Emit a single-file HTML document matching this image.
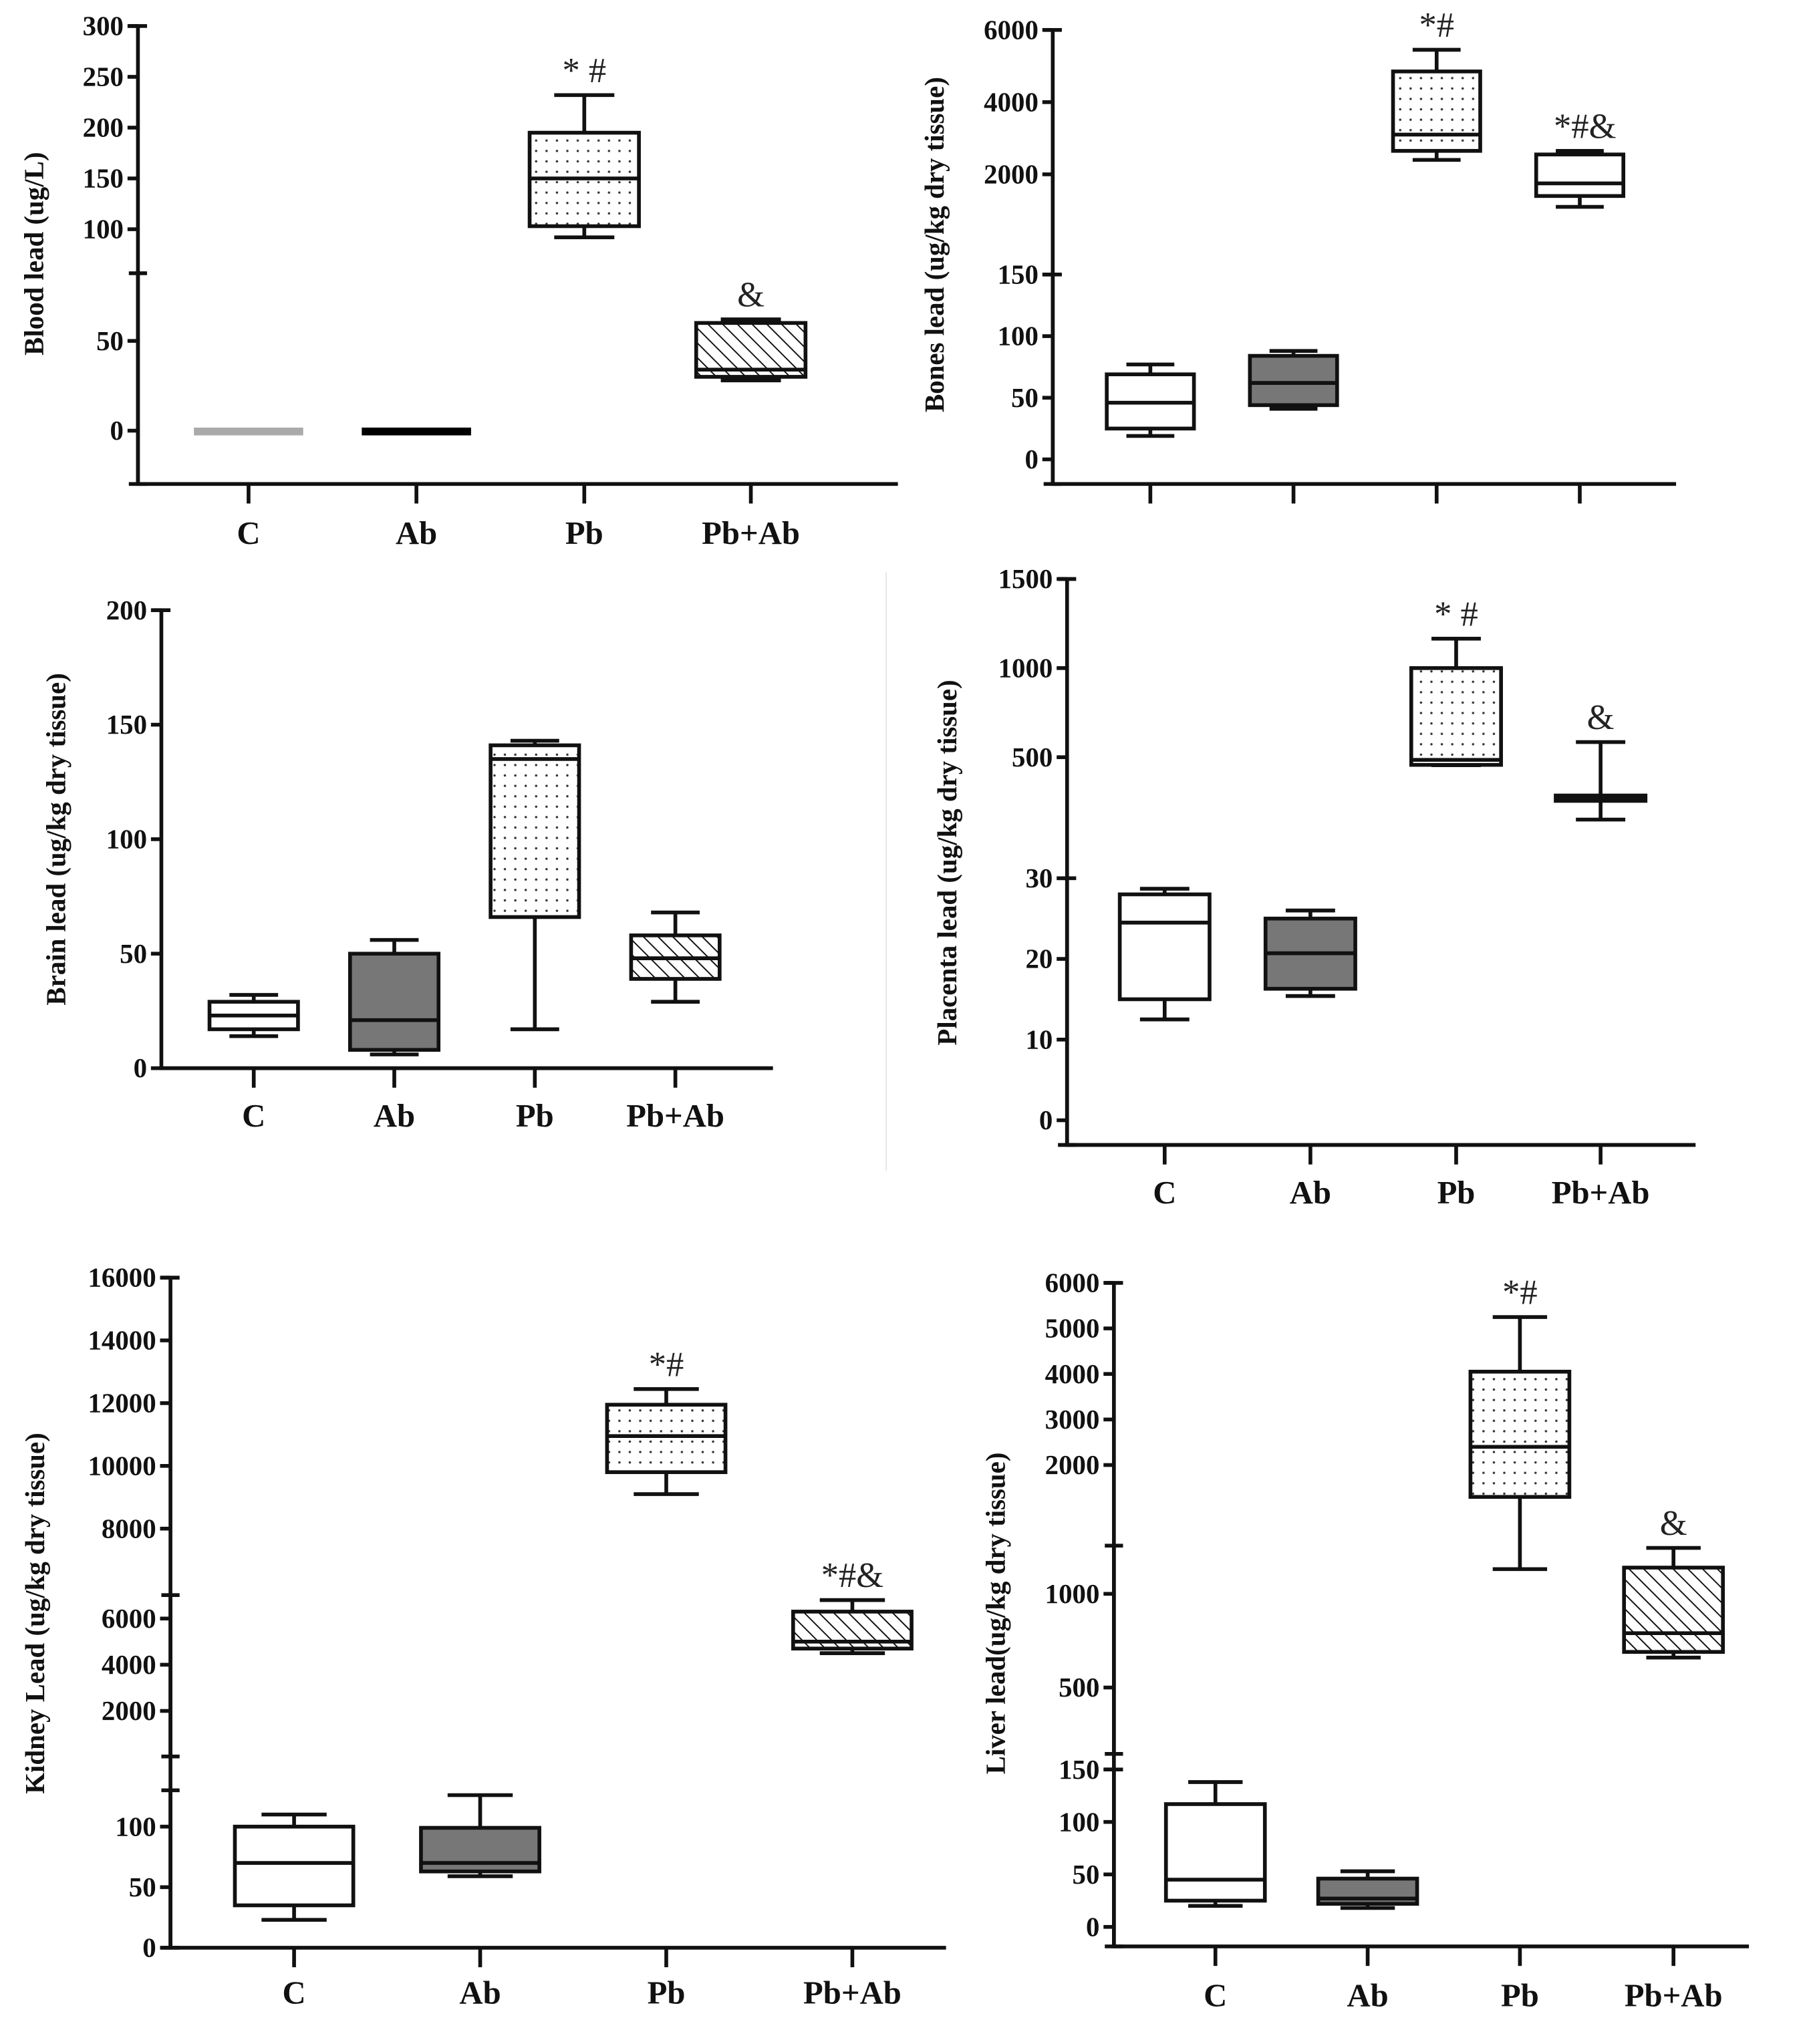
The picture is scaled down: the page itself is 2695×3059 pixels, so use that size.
<!DOCTYPE html>
<html><head><meta charset="utf-8">
<style>
html,body{margin:0;padding:0;background:#fff;}
svg{display:block;}
text{font-family:"Liberation Serif",serif;}
</style></head>
<body>
<svg id="fig" width="2695" height="3059" viewBox="0 0 1384 1571" preserveAspectRatio="none" xmlns="http://www.w3.org/2000/svg">
<defs>
<pattern id="dots" width="8" height="8" patternUnits="userSpaceOnUse"><rect width="8" height="8" fill="#fff"/><circle cx="4" cy="4" r="0.9" fill="#333"/></pattern>
<pattern id="hatch" width="8" height="8" patternUnits="userSpaceOnUse" patternTransform="rotate(-45)"><rect width="8" height="8" fill="#fff"/><line x1="0" y1="0" x2="0" y2="8" stroke="#111" stroke-width="2"/></pattern>
</defs>
<line x1="681" y1="440" x2="681" y2="900" stroke="#e6e6e6" stroke-width="1"/>
</svg>
<script>
const categories = ["C","Ab","Pb","Pb+Ab"];
// Blood
const bloodMin=[0,0,92,28], bloodQ1=[-1,-1,103,30], bloodMed=[0,0,150,34], bloodQ3=[1,1,195,60], bloodMax=[0,0,232,62];
// Bones
const bonesMin=[19,41,2400,1100], bonesQ1=[25,44,2650,1400], bonesMed=[46,62,3100,1750], bonesQ3=[69,84,4850,2550], bonesMax=[77,88,5450,2650];
// Brain
const brainMin=[14,6,17,29], brainQ1=[17,8,66,39], brainMed=[23,21,135,48], brainQ3=[29,50,141,58], brainMax=[32,56,143,68];
// Placenta
const placMin=[12.5,15.4,455,150], placQ1=[15,16.3,457,255], placMed=[24.5,20.7,485,270], placQ3=[28,25,1000,285], placMax=[28.7,26,1165,585];
// Kidney
const kidMin=[23,59,9100,4500], kidQ1=[35,63,9800,4700], kidMed=[70,70,10950,5000], kidQ3=[100,99,11950,6300], kidMax=[110,126,12450,6800];
// Liver
const livMin=[20,18,1132,660], livQ1=[25,22,1300,690], livMed=[45,27,2400,790], livQ3=[117,46,4050,1140], livMax=[138,53,5250,1245];

const NS="http://www.w3.org/2000/svg";
const svg=document.getElementById('fig');
function mk(tag,attrs,parent){const e=document.createElementNS(NS,tag);for(const k in attrs)e.setAttribute(k,attrs[k]);(parent||svg).appendChild(e);return e;}
const SW=2.9;
function panel(p){
  const g=mk('g',{});
  
  
  function y(v){
    for(const s of p.segs){ if(v>=s.lo&&v<=s.hi) return s.yLo+(v-s.lo)*(s.yHi-s.yLo)/(s.hi-s.lo); }
    let best=null,bd=1e18;
    for(const s of p.segs){ for(const [vv,yy] of [[s.lo,s.yLo],[s.hi,s.yHi]]){const d=Math.abs(v-vv); if(d<bd){bd=d;best=yy;}}}
    return best;
  }
  const ax=p.axisX;
  p.segs.forEach((s,i)=>{
    const bottom = (i===p.segs.length-1)? p.xAxisY : s.yLo;
    const l=mk('line',{x1:ax,y1:s.yHi,x2:ax,y2:bottom,stroke:'#111','stroke-width':SW},g);
    
    
    mk('line',{x1:ax-7,y1:s.yHi,x2:ax+7,y2:s.yHi,stroke:'#111','stroke-width':SW},g);
    if(i<p.segs.length-1) mk('line',{x1:ax-7,y1:s.yLo,x2:ax+7,y2:s.yLo,stroke:'#111','stroke-width':SW},g);
  });
  p.ticks.forEach(t=>{
    const yy=y(t);
    mk('line',{x1:ax-8,y1:yy,x2:ax,y2:yy,stroke:'#111','stroke-width':SW},g);
    const tx=mk('text',{x:ax-11,y:yy+7,'text-anchor':'end','font-size':21,'font-weight':'bold',fill:'#111'},g);
    tx.textContent=t;
    
    
  });
  const xa=mk('line',{x1:ax-1,y1:p.xAxisY,x2:p.xEnd,y2:p.xAxisY,stroke:'#111','stroke-width':SW},g);
  
  
  p.cx.forEach((cx,i)=>{
    mk('line',{x1:cx,y1:p.xAxisY,x2:cx,y2:p.xAxisY+15,stroke:'#111','stroke-width':SW},g);
    if(p.labels){
      const t=mk('text',{x:cx,y:p.labelY,'text-anchor':'middle','font-size':25,'font-weight':'bold',fill:'#111'},g);
      t.textContent=categories[i];
      
      
    }
  });
  const tt=mk('text',{x:0,y:0,'text-anchor':'middle','font-size':21,'font-weight':'bold',fill:'#111',transform:`translate(${p.titleX},${p.titleY}) rotate(-90)`},g);
  tt.textContent=p.title;
  
  
  for(let i=0;i<4;i++){
    const st=p.styles[i], cx=p.cx[i], w=p.bw, cap=w*0.55;
    const bg=mk('g',{},g);
    
    
    if(st==='lineGray'||st==='lineBlack'){
      const col= st==='lineGray'?'#aaa':'#000';
      mk('rect',{x:cx-w/2,y:y(p.q3[i])-1,width:w,height:Math.max(6,y(p.q1[i])-y(p.q3[i])+2),fill:col},bg);
      continue;
    }
    const yMin=y(p.min[i]),yMax=y(p.max[i]),yQ1=y(p.q1[i]),yQ3=y(p.q3[i]),yMed=y(p.med[i]);
    mk('line',{x1:cx,y1:yMax,x2:cx,y2:yQ3,stroke:'#111','stroke-width':SW},bg);
    mk('line',{x1:cx,y1:yQ1,x2:cx,y2:yMin,stroke:'#111','stroke-width':SW},bg);
    mk('line',{x1:cx-cap/2,y1:yMax,x2:cx+cap/2,y2:yMax,stroke:'#111','stroke-width':SW},bg);
    mk('line',{x1:cx-cap/2,y1:yMin,x2:cx+cap/2,y2:yMin,stroke:'#111','stroke-width':SW},bg);
    const fill= st==='gray'?'#777':st==='dots'?'url(#dots)':st==='hatch'?'url(#hatch)':'#fff';
    mk('rect',{x:cx-w/2,y:yQ3,width:w,height:Math.max(3,yQ1-yQ3),fill:fill,stroke:'#111','stroke-width':SW},bg);
    mk('line',{x1:cx-w/2,y1:yMed,x2:cx+w/2,y2:yMed,stroke:'#111','stroke-width':SW},bg);
    if(p.ann[i]){
      const a=mk('text',{x:cx+(p.annDx?p.annDx[i]:0),y:yMax-10,'text-anchor':'middle','font-size':27,fill:'#222'},bg);
      a.textContent=p.ann[i];
      
      
    }
  }
}

panel({name:'blood',title:'Blood lead (ug/L)',titleX:33,titleY:195,axisX:106,xAxisY:372,xEnd:690,labels:true,labelY:418,
  cx:[191,320,449,577],bw:84,
  segs:[{lo:-29.7,hi:87.7,yLo:372,yHi:210},{lo:90,hi:300,yLo:184,yHi:20}],
  ticks:[0,50,100,150,200,250,300],
  min:bloodMin,q1:bloodQ1,med:bloodMed,q3:bloodQ3,max:bloodMax,
  styles:['lineGray','lineBlack','dots','hatch'],ann:['','','* #','&']});
panel({name:'bones',title:'Bones lead (ug/kg dry tissue)',titleX:725,titleY:188,axisX:809,xAxisY:372,xEnd:1288,labels:false,
  cx:[884,994,1104,1214],bw:67,
  segs:[{lo:-20,hi:150,yLo:372,yHi:211},{lo:198,hi:6000,yLo:184,yHi:23}],
  ticks:[0,50,100,150,2000,4000,6000],
  min:bonesMin,q1:bonesQ1,med:bonesMed,q3:bonesQ3,max:bonesMax,
  styles:['white','gray','dots','white'],ann:['','','*#','*#&'],annDx:[0,0,0,4]});
panel({name:'brain',title:'Brain lead (ug/kg dry tissue)',titleX:50,titleY:645,axisX:124,xAxisY:821,xEnd:594,labels:true,labelY:866,
  cx:[195,303,411,519],bw:68,
  segs:[{lo:0,hi:200,yLo:821,yHi:469}],
  ticks:[0,50,100,150,200],
  min:brainMin,q1:brainQ1,med:brainMed,q3:brainQ3,max:brainMax,
  styles:['white','gray','dots','hatch'],ann:['','','','']});
panel({name:'placenta',title:'Placenta lead (ug/kg dry tissue)',titleX:735,titleY:663,axisX:820,xAxisY:880,xEnd:1303,labels:true,labelY:925,
  cx:[895,1007,1119,1230],bw:69,
  segs:[{lo:-3.06,hi:30,yLo:880,yHi:675},{lo:18,hi:1500,yLo:648,yHi:445}],
  ticks:[0,10,20,30,500,1000,1500],
  min:placMin,q1:placQ1,med:placMed,q3:placQ3,max:placMax,
  styles:['white','gray','dots','hatch'],ann:['','','* #','&']});
panel({name:'kidney',title:'Kidney Lead (ug/kg dry tissue)',titleX:34,titleY:1240,axisX:131,xAxisY:1497,xEnd:727,labels:true,labelY:1540,
  cx:[226,369,512,655],bw:91,
  segs:[{lo:0,hi:130,yLo:1497,yHi:1376},{lo:28,hi:7014,yLo:1350,yHi:1226},{lo:7000,hi:16000,yLo:1199,yHi:982}],
  ticks:[0,50,100,2000,4000,6000,8000,10000,12000,14000,16000],
  min:kidMin,q1:kidQ1,med:kidMed,q3:kidQ3,max:kidMax,
  styles:['white','gray','dots','hatch'],ann:['','','*#','*#&']});
panel({name:'liver',title:'Liver lead(ug/kg dry tissue)',titleX:772,titleY:1240,axisX:856,xAxisY:1496,xEnd:1344,labels:true,labelY:1542,
  cx:[934,1051,1168,1286],bw:76,
  segs:[{lo:-18.6,hi:150,yLo:1496,yHi:1360},{lo:146,hi:1257,yLo:1348,yHi:1188},{lo:1286,hi:6000,yLo:1151,yHi:986}],
  ticks:[0,50,100,150,500,1000,2000,3000,4000,5000,6000],
  min:livMin,q1:livQ1,med:livMed,q3:livQ3,max:livMax,
  styles:['white','gray','dots','hatch'],ann:['','','*#','&']});
</script>
</body></html>
